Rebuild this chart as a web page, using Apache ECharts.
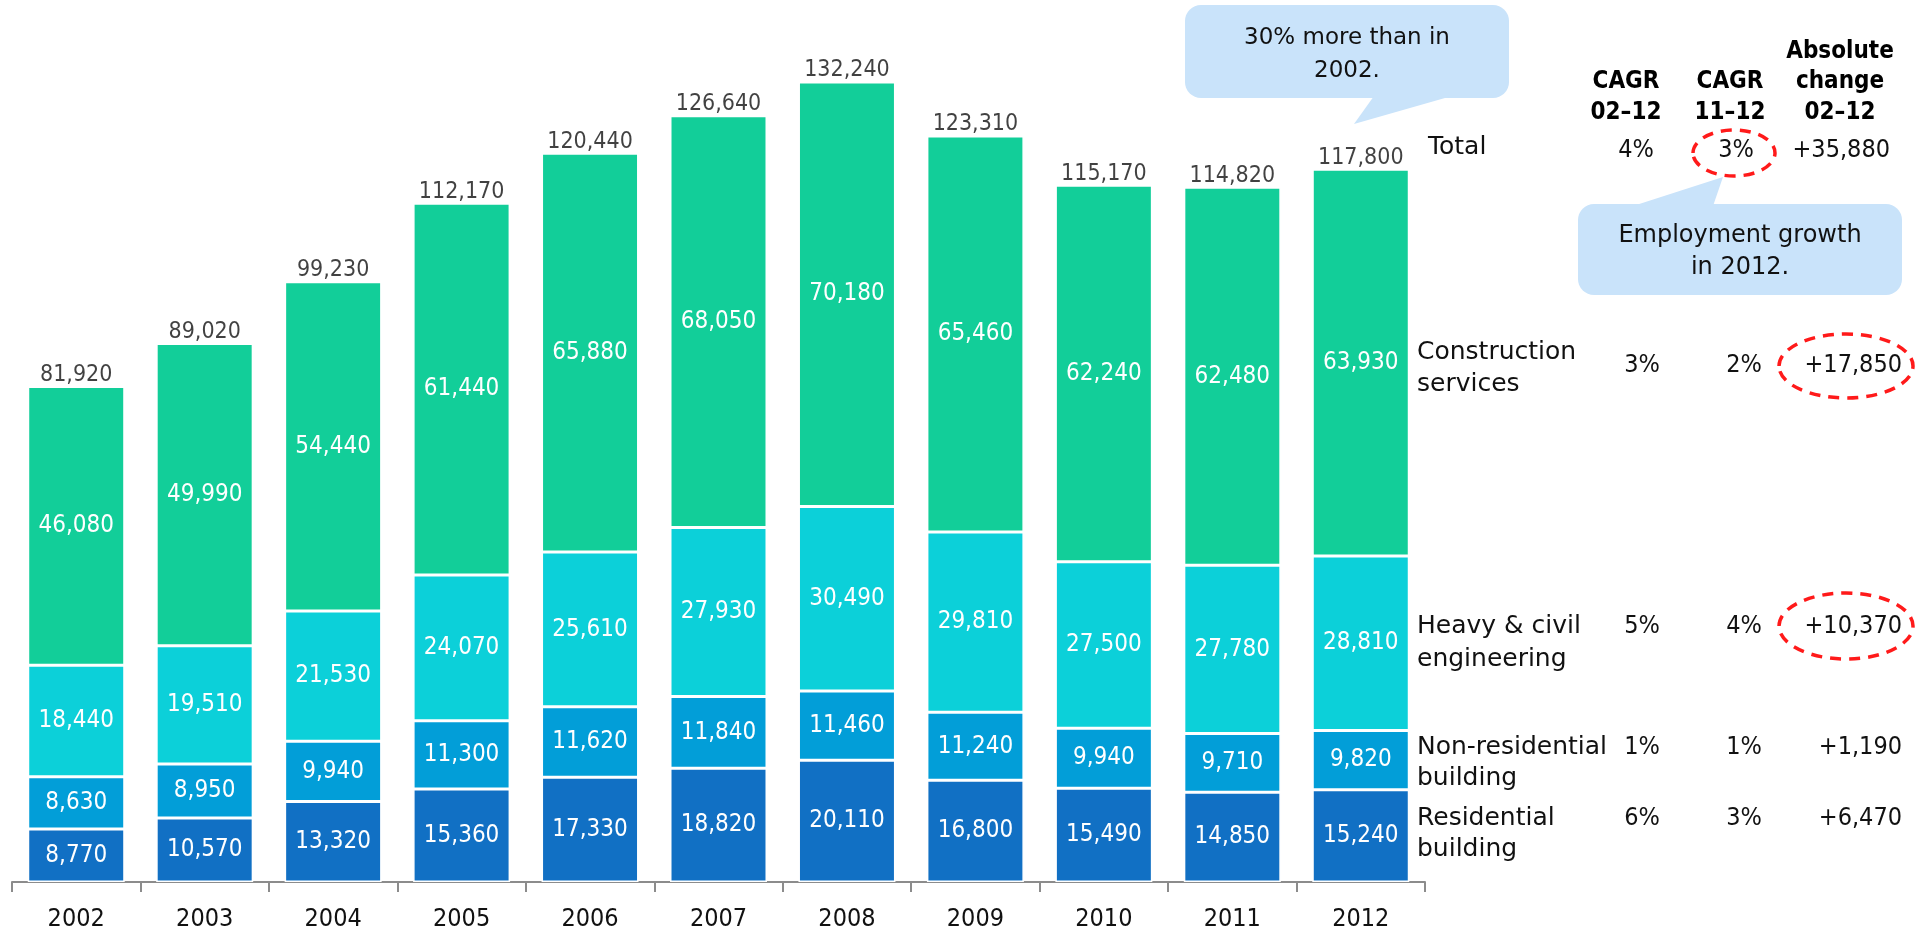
<!DOCTYPE html>
<html><head><meta charset="utf-8">
<script src="https://cdn.jsdelivr.net/npm/echarts@6/dist/echarts.min.js"></script>
<style>html,body{margin:0;padding:0;background:#fff}#c{width:1924px;height:930px}</style>
</head><body><div id="c"></div>
<script>
const years = ['2002','2003','2004','2005','2006','2007','2008','2009','2010','2011','2012'];
const residential = [8770,10570,13320,15360,17330,18820,20110,16800,15490,14850,15240];
const nonResidential = [8630,8950,9940,11300,11620,11840,11460,11240,9940,9710,9820];
const heavyCivil = [18440,19510,21530,24070,25610,27930,30490,29810,27500,27780,28810];
const constructionServices = [46080,49990,54440,61440,65880,68050,70180,65460,62240,62480,63930];
const totals = [81920,89020,99230,112170,120440,126640,132240,123310,115170,114820,117800];

const rowNames = [['Total'],['Construction','services'],['Heavy & civil','engineering'],['Non-residential','building'],['Residential','building']];
const cagr0212 = ['4%','3%','5%','1%','6%'];
const cagr1112 = ['3%','2%','4%','1%','3%'];
const absChange = ['+35,880','+17,850','+10,370','+1,190','+6,470'];
const headers = [['CAGR','02–12'],['CAGR','11–12'],['Absolute','change','02–12']];
const callout1 = ['30% more than in','2002.'];
const callout2 = ['Employment growth','in 2012.'];

const FONT = '"DejaVu Sans", sans-serif';
const NUMFONT = '"DejaVu Sans Condensed", "DejaVu Sans", sans-serif';
const colors = ['#1170C4','#029ED8','#0CD0D9','#12CE99'];
const fmt = v => v.toLocaleString('en-US');

const chart = echarts.init(document.getElementById('c'), null, {renderer:'canvas'});

function barSeries(name, data, color) {
  return {
    name, type:'bar', stack:'all', data,
    barCategoryGap:'24.5%',
    itemStyle:{color, borderColor:'#fff', borderWidth:1.5},
    label:{show:true, position:'inside', color:'#fff', fontFamily:NUMFONT, fontSize:24,
      formatter:p=>fmt(p.value)},
    emphasis:{disabled:true}
  };
}

const g = [];
function txt(x, y, s, opts) {
  g.push({type:'text', x, y, silent:true, style:Object.assign({text:s, fill:'#111',
    font:'24px ' + FONT, align:'center', verticalAlign:'middle'}, opts||{})});
}
const calloutFill = '#C9E3FA';
g.push({type:'rect', shape:{x:1185,y:5,width:324,height:93,r:16}, style:{fill:calloutFill}, silent:true});
g.push({type:'polygon', shape:{points:[[1374,96],[1452,96],[1354,124]]}, style:{fill:calloutFill}, silent:true});
txt(1347, 38, callout1[0], {font:'23px ' + FONT}); txt(1347, 71, callout1[1], {font:'23px ' + FONT});
g.push({type:'rect', shape:{x:1578,y:204,width:324,height:91,r:16}, style:{fill:calloutFill}, silent:true});
g.push({type:'polygon', shape:{points:[[1633,206],[1713,206],[1723,177]]}, style:{fill:calloutFill}, silent:true});
txt(1740, 236, callout2[0]); txt(1740, 268, callout2[1]);

const hx = [1626, 1730, 1840];
headers.forEach((h, i) => {
  const ys = h.length === 3 ? [52, 82, 113] : [82, 113];
  h.forEach((line, j) => txt(hx[i], ys[j], line, {font:'bold 24px ' + NUMFONT, fill:'#000'}));
});
const rowLabelY = [[147],[352,384],[626,659],[747,778],[818,849]];
const rowValY = [150, 365, 626, 747, 818];
const valFont = '25px ' + NUMFONT;
rowNames.forEach((r, i) => {
  r.forEach((line, j) => txt(i === 0 ? 1428 : 1417, rowLabelY[i][j], line, {align:'left', font:'25px ' + FONT}));
  txt(i === 0 ? 1636 : 1642, rowValY[i], cagr0212[i], {font:valFont});
  txt(i === 0 ? 1736 : 1744, rowValY[i], cagr1112[i], {font:valFont});
  txt(i === 0 ? 1890 : 1902, rowValY[i], absChange[i], {align:'right', font:valFont});
});
[[1734,153,41,23],[1846,366,67,32],[1846,626,67,33]].forEach(e => {
  g.push({type:'ellipse', shape:{cx:e[0], cy:e[1], rx:e[2], ry:e[3]}, silent:true,
    style:{fill:'none', stroke:'#FF1A1A', lineWidth:3.5, lineDash:[11,8]}});
});

chart.setOption({
  backgroundColor:'#fff',
  animation:false,
  grid:{left:12, right:499, top:35, bottom:48, containLabel:false, outerBoundsMode:'none'},
  xAxis:{type:'category', data:years,
    axisLine:{lineStyle:{color:'#8c8c8c', width:2}},
    axisTick:{show:true, length:10, lineStyle:{color:'#8c8c8c', width:2}},
    axisLabel:{color:'#111', fontFamily:NUMFONT, fontSize:25, margin:25}},
  yAxis:{type:'value', min:0, max:140000, show:false, splitLine:{show:false}},
  series:[
    barSeries('Residential building', residential, colors[0]),
    barSeries('Non-residential building', nonResidential, colors[1]),
    barSeries('Heavy & civil engineering', heavyCivil, colors[2]),
    barSeries('Construction services', constructionServices, colors[3]),
    {name:'Total', type:'scatter', data:totals, symbolSize:0, silent:true,
      label:{show:true, position:'top', distance:0, color:'#111', fontFamily:NUMFONT, fontSize:23,
        formatter:p=>fmt(p.value)}}
  ],
  graphic:g
});
</script></body></html>
